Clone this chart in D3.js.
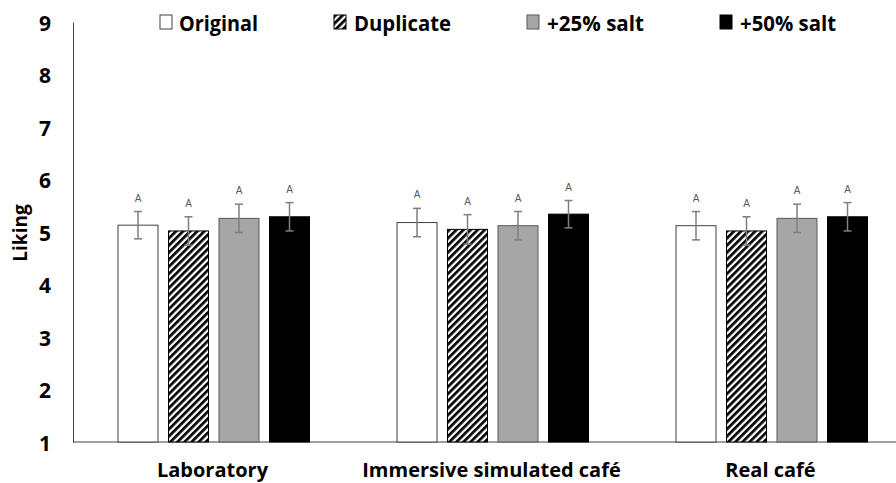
<!DOCTYPE html>
<html lang="en">
<head>
<meta charset="UTF-8">
<title>liking</title>
<style>
  * { margin: 0; padding: 0; }
  body { background: #fff; }
  svg { display: block; }
  text { font-family: "Open Sans", "Noto Sans", sans-serif; font-weight: bold; }
</style>
</head>
<body>
<script src="https://cdn.jsdelivr.net/npm/d3@7"></script>
<script>
var categories = ['Laboratory', 'Immersive simulated café', 'Real café'];
var series = ['Original', 'Duplicate', '+25% salt', '+50% salt'];
// means per category, in series order
var means = [
  [5.13, 5.02, 5.26, 5.29],
  [5.18, 5.05, 5.12, 5.34],
  [5.12, 5.02, 5.26, 5.29]
];
var errors = [
  [0.26, 0.27, 0.27, 0.27],
  [0.27, 0.28, 0.27, 0.26],
  [0.27, 0.27, 0.27, 0.27]
];
var letters = [
  ['A', 'A', 'A', 'A'],
  ['A', 'A', 'A', 'A'],
  ['A', 'A', 'A', 'A']
];
var yTicks = [1, 2, 3, 4, 5, 6, 7, 8, 9];

var width = 896, height = 483;
var padding = { top: 22, bottom: 41, left: 73, right: -14 };

var svg = d3.select('body').append('svg').attr('width', width).attr('height', height);

// diagonal hatch for "Duplicate"
var pat = svg.append('defs').append('pattern')
  .attr('id', 'hatch')
  .attr('patternUnits', 'userSpaceOnUse')
  .attr('width', 5).attr('height', 5)
  .attr('patternTransform', 'rotate(45)');
pat.append('rect').attr('width', 5).attr('height', 5).attr('fill', '#fff');
pat.append('rect').attr('width', 2.7).attr('height', 5).attr('fill', '#000');

var fills = ['#ffffff', 'url(#hatch)', '#a6a6a6', '#000000'];
var strokes = ['#404040', '#000', '#595959', '#000'];

var x0 = d3.scaleBand().domain(categories).range([padding.left, width - padding.right]);
var x1 = d3.scaleBand().domain(series).range([45, 236.5]).paddingInner(0.208);
var y = d3.scaleLinear().domain([1, 9]).range([height - padding.bottom, padding.top]);

// y axis
var yAxis = svg.append('g')
  .attr('transform', 'translate(' + padding.left + ',0)')
  .call(d3.axisLeft(y).tickValues(yTicks).tickSize(0).tickPadding(22).tickFormat(d3.format('d')));
yAxis.select('.domain').attr('stroke', '#404040');
yAxis.selectAll('text').style('font-size', '21px').attr('fill', '#000').attr('dy', '0.4em');

// x axis baseline
svg.append('line')
  .attr('x1', padding.left).attr('x2', width)
  .attr('y1', y(1)).attr('y2', y(1))
  .attr('stroke', '#404040').attr('stroke-width', 1);

var groups = svg.selectAll('.grp')
  .data(categories)
  .enter()
  .append('g')
  .attr('class', 'grp')
  .attr('transform', function (d) { return 'translate(' + x0(d) + ',0)'; });

groups.each(function (c, ci) {
  var g = d3.select(this);
  series.forEach(function (s, si) {
    var v = means[ci][si], e = errors[ci][si];
    var bx = x1(s), bw = x1.bandwidth(), cx = bx + bw / 2;
    g.append('rect')
      .attr('x', bx).attr('y', y(v))
      .attr('width', bw).attr('height', y(1) - y(v))
      .attr('fill', fills[si]).attr('stroke', strokes[si]).attr('stroke-width', 1);
    g.append('line')
      .attr('x1', cx).attr('x2', cx).attr('y1', y(v + e)).attr('y2', y(v - e))
      .attr('stroke', '#7f7f7f').attr('stroke-width', 1.5);
    [v + e, v - e].forEach(function (t) {
      g.append('line')
        .attr('x1', cx - 4).attr('x2', cx + 4).attr('y1', y(t)).attr('y2', y(t))
        .attr('stroke', '#7f7f7f').attr('stroke-width', 1.5);
    });
    g.append('text')
      .attr('x', cx).attr('y', y(v + e) - 10)
      .attr('text-anchor', 'middle')
      .style('font-size', '10px').style('font-weight', 'normal')
      .style('font-family', 'Arial, "Liberation Sans", sans-serif')
      .attr('fill', '#595959')
      .text(letters[ci][si]);
  });
});

// category labels
svg.selectAll('.cat')
  .data(categories)
  .enter()
  .append('text')
  .attr('class', 'cat')
  .attr('x', function (d) { return x0(d) + x0.bandwidth() / 2; })
  .attr('y', 477)
  .attr('text-anchor', 'middle')
  .style('font-size', '20px')
  .text(function (d) { return d; });

// y title
svg.append('text')
  .attr('transform', 'translate(27,233) rotate(-90)')
  .attr('text-anchor', 'middle')
  .style('font-size', '19px')
  .text('Liking');

// legend
var legendX = [160, 334, 527, 720];
var legendW = [79, 97, 97, 96];
var leg = svg.selectAll('.leg')
  .data(series)
  .enter()
  .append('g')
  .attr('class', 'leg')
  .attr('transform', function (d, i) { return 'translate(' + legendX[i] + ',15)'; });
leg.append('rect')
  .attr('width', 12).attr('height', 14)
  .attr('fill', function (d, i) { return fills[i]; })
  .attr('stroke', function (d, i) { return strokes[i]; });
leg.append('text')
  .attr('x', function (d, i) { return i === 0 ? 19 : 20; })
  .attr('y', 16)
  .style('font-size', '22px')
  .attr('textLength', function (d, i) { return legendW[i]; })
  .attr('lengthAdjust', 'spacingAndGlyphs')
  .text(function (d) { return d; });
</script>
</body>
</html>
